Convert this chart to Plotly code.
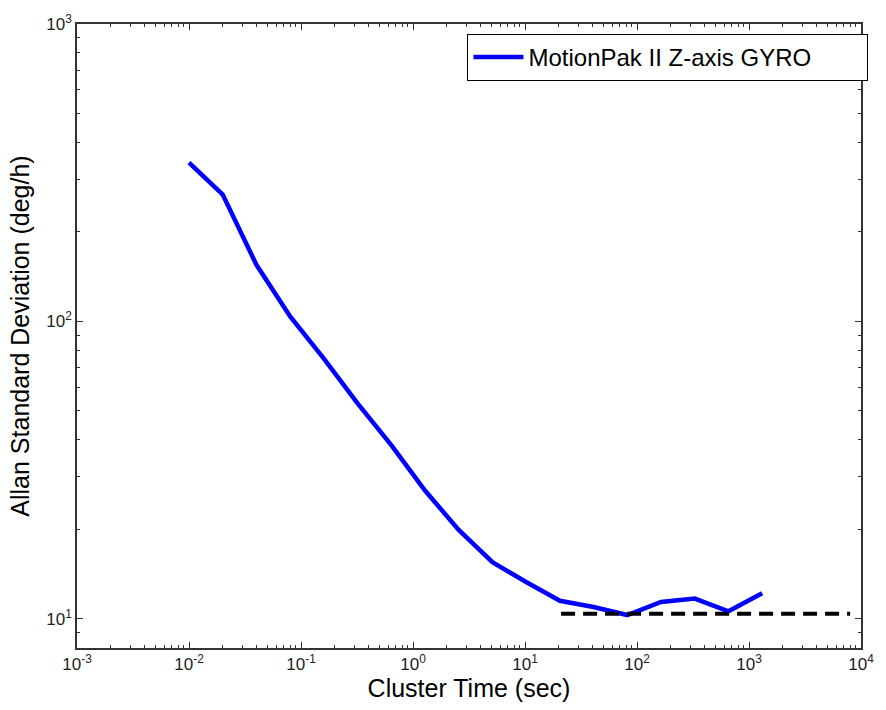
import plotly.graph_objects as go

# Allan deviation of the MotionPak II Z-axis gyro (octave-spaced cluster times)
cluster_time = [0.01, 0.02, 0.04, 0.08, 0.16, 0.32, 0.64, 1.28, 2.56, 5.12,
                10.24, 20.48, 40.96, 81.92, 163.84, 327.68, 655.36, 1310.72]
allan_dev = [342, 267, 155, 104, 75, 53, 38.4, 27, 19.9, 15.5,
             13.3, 11.5, 10.96, 10.3, 11.4, 11.7, 10.6, 12.2]

# Bias-instability floor
floor_time = [21, 8000]
floor_level = [10.4, 10.4]

x_decades = [-3, -2, -1, 0, 1, 2, 3, 4]
y_decades = [1, 2, 3]

FONT = "Liberation Sans, Arial, Helvetica, sans-serif"

def minor_vals(decades):
    vals = []
    for d in range(decades[0] - 1, decades[-1] + 1):
        for m in range(2, 10):
            vals.append(m * 10.0 ** d)
    return vals

fig = go.Figure()
fig.add_trace(go.Scatter(
    x=cluster_time, y=allan_dev, mode="lines",
    name="MotionPak II Z-axis GYRO",
    line=dict(color="#0000ff", width=4.5),
))
fig.add_trace(go.Scatter(
    x=floor_time, y=floor_level, mode="lines", showlegend=False,
    line=dict(color="black", width=4, dash="14px,8px"),
))

axis_common = dict(
    type="log", showgrid=False, zeroline=False,
    showline=True, linecolor="#333333", linewidth=1.5, mirror="ticks",
    ticks="inside", ticklen=6, tickwidth=1, tickcolor="#333333",
    tickfont=dict(family=FONT, size=17, color="#222222"),
)

fig.update_xaxes(
    **axis_common,
    range=[-3, 4],
    tickvals=[10.0 ** d for d in x_decades],
    ticktext=[f"10<sup>{d}</sup>" for d in x_decades],
    minor=dict(ticks="inside", ticklen=3, tickcolor="#333333",
               tickvals=minor_vals(x_decades)),
    title=dict(text="Cluster Time (sec)", font=dict(family=FONT, size=25, color="black"),
               standoff=4),
)
fig.update_yaxes(
    **axis_common,
    range=[0.902, 3],
    tickvals=[10.0 ** d for d in y_decades],
    ticktext=[f"10<sup>{d}</sup>" for d in y_decades],
    minor=dict(ticks="inside", ticklen=3, tickcolor="#333333",
               tickvals=minor_vals(y_decades)),
    title=dict(text="Allan Standard Deviation (deg/h)",
               font=dict(family=FONT, size=25, color="black"), standoff=10),
)

fig.update_layout(
    width=886, height=710,
    margin=dict(l=77, r=15, t=24, b=62),
    paper_bgcolor="white", plot_bgcolor="white",
    font=dict(family=FONT, color="black"),
    legend=dict(
        orientation="h",
        x=1.0095, y=0.984, xanchor="right", yanchor="top",
        bordercolor="black", borderwidth=1, bgcolor="white",
        font=dict(family=FONT, size=24, color="black"),
        itemwidth=50, entrywidth=334, entrywidthmode="pixels",
    ),
)

fig.write_html("out.html")
